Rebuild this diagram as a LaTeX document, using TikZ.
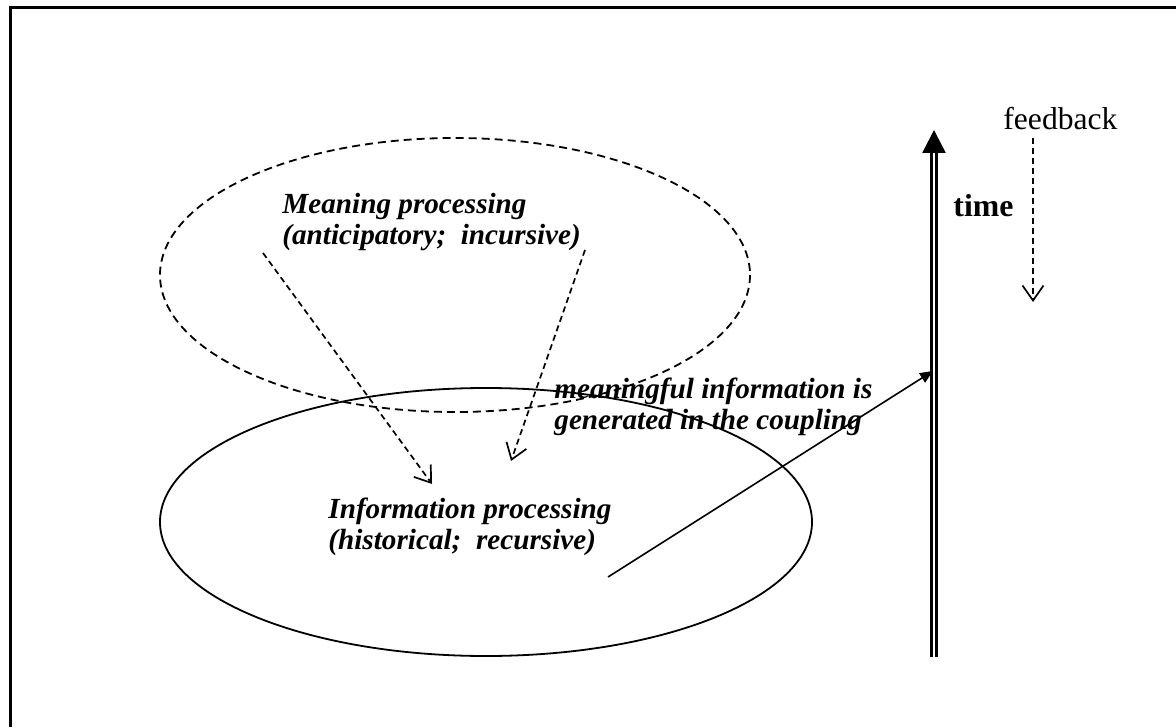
\documentclass[tikz,border=0pt]{standalone}
\usepackage{fontspec}
\setmainfont{Liberation Serif}
\usetikzlibrary{arrows.meta}

\begin{document}
\begin{tikzpicture}[x=0.5pt, y=-0.5pt,
  lbl/.style={inner sep=0pt, align=left, anchor=west,
    font=\fontsize{14.6}{15.5}\selectfont\bfseries\itshape},
  dasharrow/.style={line width=0.85pt, dash pattern=on 3pt off 2pt,
    -{Straight Barb[length=7.5pt,width=10.5pt]}}]
\useasboundingbox (0,0) rectangle (1176,727);
\draw[line width=1.5pt] (10,727) -- (10,8) -- (1176,8);

% the two processes
\draw[line width=0.9pt, dash pattern=on 4pt off 2.5pt] (455,275) ellipse [x radius=295, y radius=137];
\draw[line width=0.9pt] (486,522) ellipse [x radius=326, y radius=134];
\node[lbl] (meaning) at (282,222) {Meaning processing\\(anticipatory;\ \ incursive)};
\node[lbl] (info) at (328,527) {Information processing\\(historical;\ \ recursive)};
\node[lbl] (coupling) at (554,407) {meaningful information is\\generated in the coupling};

\coordinate (m1) at (263,253);
\coordinate (m2) at (585,250);
\coordinate (i1) at (432,484);
\coordinate (i2) at (511,461);
\draw[dasharrow] (m1) -- (i1);
\draw[dasharrow] (m2) -- (i2);

% time axis
\coordinate (tbot) at (934,657);
\coordinate (ttop) at (934,130);
\coordinate (tmeet) at (933,371);
\draw[double, line width=1.25pt, double distance=1.25pt,
  -{Triangle[length=11.5pt,width=11.5pt]}] (tbot) -- (ttop);
\node[font=\fontsize{15.9}{18}\selectfont\bfseries, anchor=base west, inner sep=0pt] (time) at (953,217) {time};

\coordinate (cstart) at (608,577);
\draw[line width=0.8pt, -{Triangle[length=6.5pt,width=5.5pt]}] (cstart) -- (tmeet);

% feedback
\node[font=\fontsize{15.8}{18}\selectfont, anchor=base west, inner sep=0pt] (feedback) at (1003,130) {feedback};
\coordinate (fb1) at (1033,138);
\coordinate (fb2) at (1033,302);
\draw[dasharrow] (fb1) -- (fb2);
\end{tikzpicture}
\end{document}
